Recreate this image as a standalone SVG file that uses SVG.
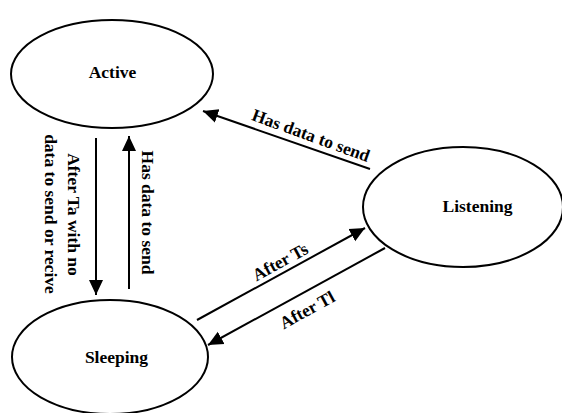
<svg xmlns="http://www.w3.org/2000/svg" width="562" height="413" viewBox="0 0 562 413">
<style>
.node{fill:#fff;stroke:#000;stroke-width:2}
.lbl{font-family:"Liberation Serif","Times New Roman",serif;font-weight:bold;font-size:17.5px;fill:#000}
.edge{stroke:#000;stroke-width:2;fill:none;marker-end:url(#arr)}
</style>
<defs>
<marker id="arr" markerUnits="userSpaceOnUse" markerWidth="16" markerHeight="16" viewBox="0 0 16 16" refX="15" refY="8" orient="auto">
<path d="M0,1 L15,8 L0,15 Z" fill="#000"/>
</marker>
</defs>
<rect width="562" height="413" fill="#fff"/>
<g id="active">
<ellipse class="node" cx="112" cy="74" rx="101" ry="54"/>
<text class="lbl" x="112.5" y="78" text-anchor="middle">Active</text>
</g>
<g id="sleeping">
<ellipse class="node" cx="110" cy="357" rx="98" ry="57"/>
<text class="lbl" x="116.5" y="363" text-anchor="middle">Sleeping</text>
</g>
<g id="listening">
<ellipse class="node" cx="463" cy="207" rx="100" ry="60"/>
<text class="lbl" x="477.5" y="212" text-anchor="middle">Listening</text>
</g>
<g id="connectors">
<line class="edge" x1="96" y1="138" x2="96" y2="295"/>
<line class="edge" x1="129" y1="289" x2="129" y2="136"/>
<line class="edge" x1="370" y1="169" x2="203" y2="111"/>
<line class="edge" x1="197" y1="320" x2="365" y2="228"/>
<line class="edge" x1="385" y1="248" x2="208" y2="345"/>
<text class="lbl" transform="translate(68,214.5) rotate(90)" text-anchor="middle">After Ta with no</text>
<text class="lbl" transform="translate(45,214) rotate(90)" text-anchor="middle">data to send or recive</text>
<text class="lbl" transform="translate(142,212.5) rotate(90)" text-anchor="middle">Has data to send</text>
<text class="lbl" transform="translate(309,141) rotate(20)" text-anchor="middle">Has data to send</text>
<text class="lbl" transform="translate(283,267) rotate(-28.5)" text-anchor="middle">After Ts</text>
<text class="lbl" transform="translate(310,315) rotate(-28.7)" text-anchor="middle">After Tl</text>
</g>
</svg>
